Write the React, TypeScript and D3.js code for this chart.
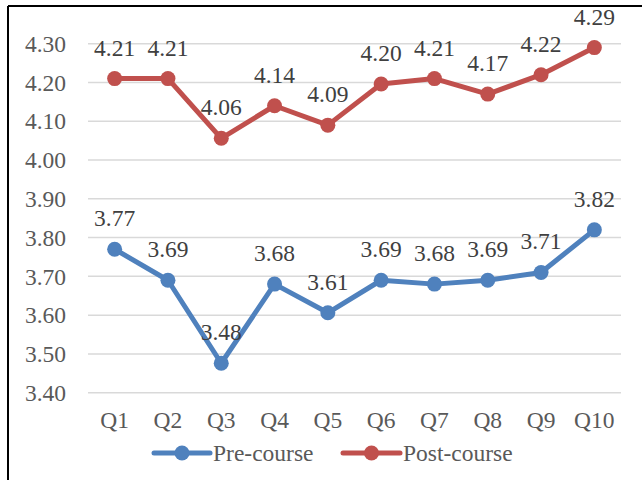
import React from "react";
import * as d3 from "d3";

const categories = ["Q1", "Q2", "Q3", "Q4", "Q5", "Q6", "Q7", "Q8", "Q9", "Q10"];
const preCourse = [3.77, 3.69, 3.476, 3.68, 3.606, 3.69, 3.68, 3.69, 3.71, 3.82];
const postCourse = [4.21, 4.21, 4.056, 4.14, 4.09, 4.196, 4.21, 4.17, 4.22, 4.29];
const yTicks = [3.4, 3.5, 3.6, 3.7, 3.8, 3.9, 4.0, 4.1, 4.2, 4.3];
const seriesNames = ["Pre-course", "Post-course"];
const colors = ["#4F81BD", "#C0504D"];

const W = 642;
const H = 480;
const FONT = "'Liberation Serif', 'Times New Roman', serif";
const FS = 23.5;

export default function App() {
  const x = d3.scaleBand<string>().domain(categories).range([88, 621]);
  const y = d3.scaleLinear().domain([3.4, 4.3]).range([392.7, 43.7]);
  const line = d3
    .line<number>()
    .x((_, i) => (x(categories[i]) as number) + x.bandwidth() / 2)
    .y((d) => y(d));
  const series = [preCourse, postCourse];
  const legendItems = [
    { x0: 154, x1: 210, tx: 213 },
    { x0: 343, x1: 400, tx: 403 },
  ];
  return (
    <svg
      width={W}
      height={H}
      style={{ position: "absolute", left: 0, top: 0, background: "#fff" }}
    >
      <rect x={0} y={0} width={W} height={H} fill="#fff" />
      <line x1={8} y1={6} x2={W + 5} y2={6} stroke="#000" strokeWidth={2} />
      <line x1={8} y1={6} x2={8} y2={H + 5} stroke="#000" strokeWidth={2} />
      {yTicks.map((t) => (
        <g key={t}>
          <line x1={88} x2={621} y1={y(t)} y2={y(t)} stroke="#D9D9D9" strokeWidth={1.5} />
          <text
            x={66}
            y={y(t)}
            dy="0.35em"
            textAnchor="end"
            fontFamily={FONT}
            fontSize={FS}
            fill="#595959"
          >
            {t.toFixed(2)}
          </text>
        </g>
      ))}
      {categories.map((c) => (
        <text
          key={c}
          x={(x(c) as number) + x.bandwidth() / 2}
          y={428}
          textAnchor="middle"
          fontFamily={FONT}
          fontSize={FS}
          fill="#595959"
        >
          {c}
        </text>
      ))}
      {series.map((vals, si) => (
        <g key={si}>
          <path d={line(vals) as string} fill="none" stroke={colors[si]} strokeWidth={5} strokeLinejoin="round" />
          {vals.map((v, i) => {
            const cx = (x(categories[i]) as number) + x.bandwidth() / 2;
            return (
              <g key={i}>
                <circle cx={cx} cy={y(v)} r={7.5} fill={colors[si]} />
                <text
                  x={cx}
                  y={y(v) - 23}
                  textAnchor="middle"
                  fontFamily={FONT}
                  fontSize={FS}
                  fill="#404040"
                >
                  {v.toFixed(2)}
                </text>
              </g>
            );
          })}
        </g>
      ))}
      {legendItems.map((l, i) => (
        <g key={i}>
          <line x1={l.x0} x2={l.x1} y1={453} y2={453} stroke={colors[i]} strokeWidth={5} strokeLinecap="round" />
          <circle cx={(l.x0 + l.x1) / 2} cy={453} r={7.5} fill={colors[i]} />
          <text x={l.tx} y={453} dy="0.35em" fontFamily={FONT} fontSize={FS} fill="#595959">
            {seriesNames[i]}
          </text>
        </g>
      ))}
    </svg>
  );
}
